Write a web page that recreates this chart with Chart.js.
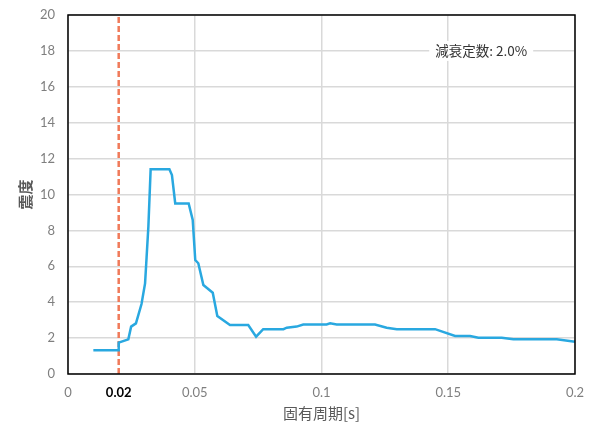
<!DOCTYPE html>
<html>
<head>
<meta charset="utf-8">
<script src="https://cdn.jsdelivr.net/npm/chart.js@4/dist/chart.umd.min.js"></script>
<style>
  html, body { margin: 0; padding: 0; background: #fff; }
  #wrap { width: 596px; height: 432px; }
</style>
</head>
<body>
<div id="wrap"><canvas id="spectrumChart"></canvas></div>
<script>
// response spectrum
const periods = [0.01, 0.02, 0.02, 0.0238, 0.0249, 0.0268, 0.029, 0.0304, 0.031, 0.0317, 0.0326,
  0.040, 0.041, 0.0423, 0.0476, 0.0492, 0.0502, 0.0514, 0.0534, 0.0571, 0.0589, 0.0639,
  0.0711, 0.0742, 0.077, 0.085, 0.0863, 0.0902, 0.0928, 0.102, 0.1034, 0.106, 0.1211,
  0.1257, 0.1297, 0.1448, 0.1527, 0.1586, 0.1619, 0.1711, 0.1757, 0.1928, 0.2];
const intensity = [1.33, 1.33, 1.75, 1.93, 2.64, 2.82, 3.9, 5.05, 6.5, 8.2, 11.4,
  11.4, 11.08, 9.5, 9.5, 8.58, 6.35, 6.17, 4.96, 4.53, 3.23, 2.73,
  2.73, 2.08, 2.5, 2.5, 2.58, 2.64, 2.76, 2.76, 2.82, 2.76, 2.76,
  2.58, 2.5, 2.5, 2.12, 2.12, 2.02, 2.02, 1.93, 1.93, 1.8];

// dashed reference line at T = 0.02 s
const markerX = [0.02, 0.02];
const markerY = [0, 20];

const xTicks = [0, 0.02, 0.05, 0.1, 0.15, 0.2];
const dampingLabel = '減衰定数: 2.0%';

const tickFont = { family: 'Lato, "Noto Sans CJK JP", sans-serif', size: 13 };

// black frame round the plot area
const framePlugin = {
  id: 'frame',
  afterDraw(chart) {
    const { ctx, chartArea: a } = chart;
    ctx.save();
    ctx.strokeStyle = '#000';
    ctx.lineWidth = 1.5;
    ctx.strokeRect(a.left, a.top, a.right - a.left, a.bottom - a.top);
    ctx.restore();
  }
};

// damping note with white box over the gridline
const notePlugin = {
  id: 'note',
  afterDatasetsDraw(chart) {
    const { ctx, scales } = chart;
    const x = scales.x.getPixelForValue(0.163);
    const y = scales.y.getPixelForValue(18);
    ctx.save();
    ctx.font = '13.5px "Noto Sans CJK JP", sans-serif';
    const w = ctx.measureText(dampingLabel).width;
    ctx.fillStyle = '#fff';
    ctx.fillRect(x - w / 2 - 6, y - 10, w + 12, 20);
    ctx.fillStyle = '#333';
    ctx.textAlign = 'center';
    ctx.textBaseline = 'middle';
    ctx.fillText(dampingLabel, x, y);
    ctx.restore();
  }
};

const ctx = document.getElementById('spectrumChart').getContext('2d');

new Chart(ctx, {
  type: 'line',
  data: {
    datasets: [{
      label: 'spectrum',
      data: periods.map((p, i) => ({ x: p, y: intensity[i] })),
      borderColor: '#29a8e0',
      borderWidth: 2.5,
      pointRadius: 0,
      tension: 0,
      fill: false
    }, {
      label: 'marker',
      data: markerX.map((p, i) => ({ x: p, y: markerY[i] })),
      borderColor: '#f07a5a',
      borderWidth: 2.5,
      borderDash: [6, 3],
      pointRadius: 0,
      fill: false
    }]
  },
  options: {
    responsive: true,
    maintainAspectRatio: false,
    animation: false,
    layout: { padding: { left: 0, right: 21, top: 15, bottom: 0 } },
    plugins: {
      legend: { display: false },
      tooltip: { enabled: false }
    },
    scales: {
      x: {
        type: 'linear',
        min: 0,
        max: 0.2,
        afterBuildTicks(scale) {
          scale.ticks = xTicks.map(v => ({ value: v }));
        },
        afterFit(scale) {
          scale.height = 58;
          scale.paddingLeft = 0;
          scale.paddingRight = 0;
        },
        grid: {
          color: c => (c.tick && c.tick.value === 0.02) ? 'rgba(0,0,0,0)' : '#d9d9d9',
          lineWidth: 1.5,
          drawTicks: false
        },
        border: { display: false },
        ticks: {
          padding: 11,
          maxRotation: 0,
          autoSkip: false,
          font: c => (c.tick && c.tick.value === 0.02)
            ? Object.assign({}, tickFont, { weight: 'bold' })
            : tickFont,
          color: c => (c.tick && c.tick.value === 0.02) ? '#000' : '#7f7f7f',
          callback: v => String(v)
        },
        title: {
          display: true,
          text: '固有周期[s]',
          color: '#595959',
          font: { family: '"Noto Sans CJK JP", sans-serif', size: 15 },
          padding: { top: 0, bottom: 10 }
        }
      },
      y: {
        min: 0,
        max: 20,
        afterFit(scale) {
          scale.width = 68;
          scale.paddingTop = 0;
          scale.paddingBottom = 0;
        },
        grid: { color: '#d9d9d9', lineWidth: 1.5, drawTicks: false },
        border: { display: false },
        ticks: {
          stepSize: 2,
          padding: 13,
          font: tickFont,
          color: '#7f7f7f'
        },
        title: {
          display: true,
          text: '震度',
          color: '#595959',
          font: { family: '"Noto Sans CJK JP", sans-serif', size: 15, weight: 'bold' },
          padding: { top: 16, bottom: 0 }
        }
      }
    }
  },
  plugins: [framePlugin, notePlugin]
});
</script>
</body>
</html>
